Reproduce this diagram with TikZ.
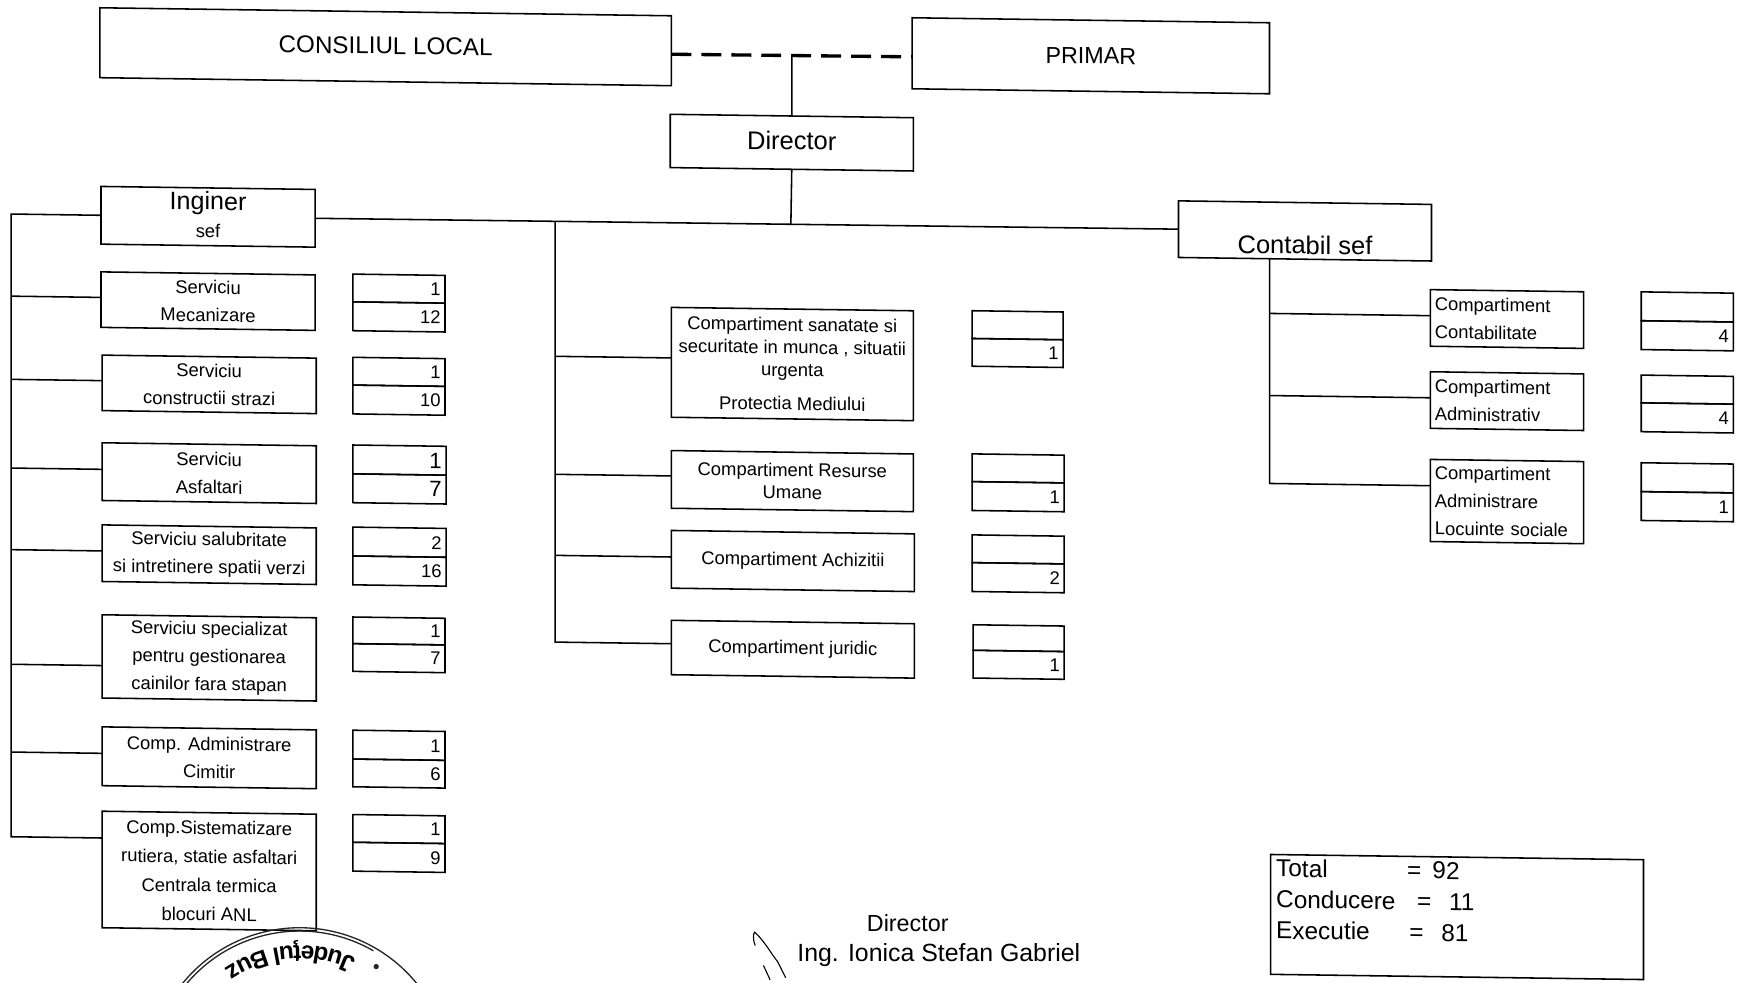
\documentclass[tikz,border=0pt]{standalone}
\usepackage{fontspec}
\setmainfont{Liberation Sans}
\usetikzlibrary{calc,decorations.text}
\newcommand{\fsz}[2]{\fontsize{#1}{#2}\selectfont}
\tikzset{
  boxst/.style={draw=black,line width=0.7pt,inner sep=0pt,outer sep=0pt,align=center,font=\fsz{8.3}{12.5}},
  sanatate/.style={boxst,font=\fsz{8.3}{10.2}},
  resurse/.style={boxst,font=\fsz{8.3}{10}},
  sist/.style={boxst,font=\fsz{8.3}{13}},
  leftcell/.style={boxst,align=left,inner xsep=2pt},
  numcell/.style={boxst,align=right,inner xsep=2pt},
  bignum/.style={font=\fsz{10}{12}},
  link/.style={draw=black,line width=0.7pt},
  dashlink/.style={draw=black,line width=1.5pt,dash pattern=on 9pt off 4.5pt},
  freetext/.style={inner sep=0pt,outer sep=0pt},
  stampline/.style={draw=black!85,line width=0.6pt}
}
\newcommand{\lift}[1]{\rule[-#1pt]{0pt}{0pt}}
% [style]{name}{x1}{y1}{x2}{y2}{text}
\newcommand{\bx}[7][]{%
  \pgfmathsetmacro\cxv{(#3+#5)/2}%
  \pgfmathsetmacro\cyv{(#4+#6)/2-0.014*#3}%
  \pgfmathsetmacro\wv{(#5-#3)*0.5}%
  \pgfmathsetmacro\hv{(#6-#4)*0.5}%
  \node[boxst,minimum width=\wv pt,minimum height=\hv pt,#1] (#2) at (\cxv,\cyv) {#7};}
\newcommand{\lb}[6]{%
  \pgfmathsetmacro\twv{(#4-#2)*0.5-4}%
  \bx[leftcell,text width=\twv pt]{#1}{#2}{#3}{#4}{#5}{#6}}
% [style]{name}{x1}{y1}{ymid}{x2}{y2}{top}{bottom}
\newcommand{\nb}[9][]{%
  \pgfmathsetmacro\twv{(#6-#3)*0.5-4}%
  \bx[numcell,text width=\twv pt,#1]{#2a}{#3}{#4}{#6}{#5}{#8}%
  \pgfmathsetmacro\twv{(#6-#3)*0.5-4}%
  \bx[numcell,text width=\twv pt,#1]{#2b}{#3}{#5}{#6}{#7}{#9}}
% branch from box #1 at fraction #2 of its left edge to the bus #3
\newcommand{\brn}[3]{%
  \coordinate (tmpb) at ($(#1.north west)!#2!(#1.south west)$);
  \draw[link] (tmpb) -- (tmpb -| #3);}
\begin{document}
\begin{tikzpicture}[x=0.5pt,y=-0.5pt]
\useasboundingbox (0,0) rectangle (1568,885.8);
\clip (0,0) rectangle (1568,885.8);
\begin{scope}[cm={1,-0.014,0,1,(0,0)},transform shape]
% top
\bx[font=\fsz{10.9}{13}]{cons}{90}{7}{605}{70}{CONSILIUL LOCAL\lift{1}}
\bx[font=\fsz{10.5}{13}]{prim}{822}{16}{1144}{80}{PRIMAR}
\bx[font=\fsz{11.5}{13}]{dir}{604}{103}{823}{151}{Director\lift{2}}
\bx{ing}{91}{168}{284}{220}{\fsz{11.3}{13.5}Inginer\\\fsz{8.3}{13.5}sef\lift{2}}
\bx[font=\fsz{11.5}{13}]{cont}{1062}{181}{1290}{232}{\rule{0pt}{21pt}Contabil sef}
% left column
\bx{mec}{91}{245}{284}{295}{Serviciu\\Mecanizare}
\nb{nmec}{318}{247}{272}{401}{298}{1}{12}
\bx{str}{92}{320}{285}{370}{Serviciu\\constructii strazi}
\nb{nstr}{318}{322}{347}{401}{373}{1}{10}
\bx{asf}{92}{399}{285}{451}{Serviciu\\Asfaltari}
\nb[bignum]{nasf}{318}{401}{427}{402}{453}{1}{7}
\bx{sal}{92}{473}{285}{524}{Serviciu salubritate\\si intretinere spatii verzi}
\nb{nsal}{318}{475}{501}{402}{527}{2}{16}
\bx{can}{92}{554}{285}{629}{Serviciu specializat\\pentru gestionarea\\cainilor fara stapan}
\nb{ncan}{318}{556}{580}{401}{605}{1}{7}
\bx{cim}{92}{655}{285}{708}{Comp. Administrare\\Cimitir}
\nb{ncim}{318}{658}{684}{401}{709}{1}{6}
\bx[sist]{sis}{92}{731}{285}{836}{Comp.Sistematizare\\rutiera, statie asfaltari\\Centrala termica\\blocuri ANL}
\nb{nsis}{318}{734}{759}{401}{785}{1}{9}
% middle column
\bx[sanatate]{san}{605}{277}{823}{376}{Compartiment sanatate si\\securitate in munca , situatii\\urgenta\\[5pt]Protectia Mediului}
\nb{nsan}{876}{280}{305}{958}{330}{}{1}
\bx[resurse]{res}{605}{406}{823}{458}{Compartiment Resurse\\Umane}
\nb{nres}{876}{409}{434}{959}{460}{}{1}
\bx{ach}{605}{478}{824}{530}{Compartiment Achizitii}
\nb{nach}{876}{482}{507}{959}{533}{}{2}
\bx{jur}{605}{559}{824}{608}{Compartiment juridic}
\nb{njur}{877}{563}{586}{959}{611}{}{1}
% right column
\lb{ctb}{1289}{261}{1427}{312}{Compartiment\\Contabilitate}
\nb{nctb}{1479}{263}{289}{1562}{315}{}{4}
\lb{adm}{1289}{335}{1427}{386}{Compartiment\\Administrativ}
\nb{nadm}{1479}{338}{363}{1562}{389}{}{4}
\lb{loc}{1289}{414}{1427}{488}{Compartiment\\Administrare\\Locuinte sociale}
\nb{nloc}{1479}{417}{443}{1562}{469}{}{1}
% total
\pgfmathsetmacro\totw{(1481-1145)*0.5-5}
\bx[leftcell,text width=\totw pt,font=\fsz{11}{14}]{tot}{1145}{770}{1481}{878}{%
\makebox[59pt][l]{Total}=\hspace{5pt}92\\
\makebox[63.5pt][l]{Conducere}=\hspace{8pt}11\\
\makebox[60pt][l]{Executie}=\hspace{8pt}81\\\mbox{}}
% connectors
\coordinate (lbus) at (10,0);
\coordinate (ce) at ($(cons.north east)!0.55!(cons.south east)$);
\coordinate (pw) at ($(prim.north west)!0.55!(prim.south west)$);
\coordinate (jt) at ($(ce)!0.5!(pw)$);
\coordinate (jd) at ($(ing.east)!0.551!(cont.west)$);
\coordinate (jm) at ($(ing.east)!0.278!(cont.west)$);
\coordinate (jc) at ($(cont.south west)!0.36!(cont.south east)$);
\coordinate (jurw) at ($(jur.north west)!0.43!(jur.south west)$);
\coordinate (sisw) at ($(sis.north west)!0.23!(sis.south west)$);
\coordinate (locw) at ($(loc.north west)!0.32!(loc.south west)$);
\draw[dashlink] (ce) -- (pw);
\draw[link] (jt) -- (dir.north);
\draw[link] (dir.south) -- (jd);
\draw[link] (ing.east) -- (cont.west);
\draw[link] (ing.west) -| (sisw -| lbus) -- (sisw);
\brn{mec}{0.46}{lbus}
\brn{str}{0.46}{lbus}
\brn{asf}{0.46}{lbus}
\brn{sal}{0.46}{lbus}
\brn{can}{0.61}{lbus}
\brn{cim}{0.45}{lbus}
\draw[link] (jm) -- (jm |- jurw) -- (jurw);
\brn{san}{0.46}{jm}
\brn{res}{0.44}{jm}
\brn{ach}{0.46}{jm}
\draw[link] (jc) -- (jc |- locw) -- (locw);
\brn{ctb}{0.46}{jc}
\brn{adm}{0.46}{jc}
\end{scope}
% signature text
\node[freetext,font=\fsz{10.5}{13}] (sigdir) at (818,832) {Director};
\node[freetext,font=\fsz{11.2}{13}] (signame) at (846,861) {Ing. Ionica Stefan Gabriel};
% signature strokes
\draw[line width=0.5pt] (680.6,852) .. controls (678,846) and (679,841) .. (680,840) .. controls (685,844) and (692,854) .. (696.6,861) -- (701,867) -- (708,881);
\draw[line width=0.5pt] (688,870) -- (694,883);
% stamp
\coordinate (stampc) at (270,972);
\draw[stampline] ($(stampc)+(-38:136)$) arc[start angle=38,end angle=142,radius=68pt];
\draw[stampline] ($(stampc)+(-60:133)$) arc[start angle=60,end angle=140,radius=66.5pt];
\fill[black!85] (339,871) circle[radius=1.2pt];
\path[decorate,decoration={text along path,text align={left},
   text={|\fsz{11}{13}\bfseries|Judeţul Buz}}]
   ($(stampc)+(-64.8:120)$) arc[start angle=64.8,end angle=150,radius=60pt];
\end{tikzpicture}
\end{document}
